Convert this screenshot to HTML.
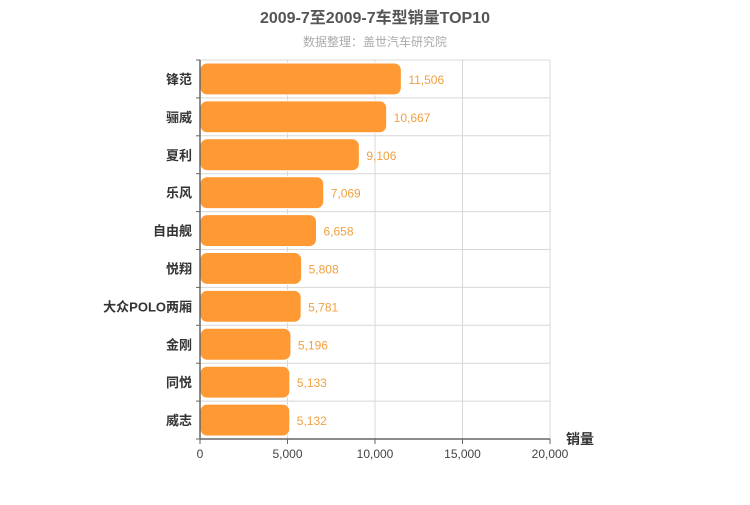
<!DOCTYPE html>
<html><head><meta charset="utf-8"><style>
body{margin:0;background:#fff;}
svg text{font-family:"Liberation Sans","Noto Sans CJK SC",sans-serif;}
</style></head><body>
<svg id="c" width="750" height="500" xmlns="http://www.w3.org/2000/svg">
<text x="375" y="23" text-anchor="middle" font-size="16" font-weight="bold" fill="#555">2009-7至2009-7车型销量TOP10</text>
<text x="375" y="46" text-anchor="middle" font-size="12" fill="#aaa">数据整理：盖世汽车研究院</text>
<g id="grid"></g><g id="bars"></g><g id="axes"></g>
<text x="566" y="444" font-size="14" font-weight="bold" fill="#333">销量</text>
</svg>
<script>
const categories=["锋范","骊威","夏利","乐风","自由舰","悦翔","大众POLO两厢","金刚","同悦","威志"];
const values=[11506,10667,9106,7069,6658,5808,5781,5196,5133,5132];
const ticks=[0,5000,10000,15000,20000];
const tickLabels=["0","5,000","10,000","15,000","20,000"];
const L=200,R=550,T=60,B=439,max=20000;
const x=v=>L+(R-L)*v/max;
const rowH=(B-T)/categories.length;
const y=i=>T+rowH*i;
const ns="http://www.w3.org/2000/svg";
function mk(tag,attrs,parent,txt){const e=document.createElementNS(ns,tag);for(const k in attrs)e.setAttribute(k,attrs[k]);if(txt!=null)e.textContent=txt;document.getElementById(parent).appendChild(e);return e;}
const fmt=v=>v.toLocaleString('en-US');
ticks.forEach((t,i)=>{
 if(i>0){const g=mk('line',{x1:x(t),x2:x(t),y1:T,y2:B,stroke:'#d8d8d8'},'grid');
 
 }
 const k=mk('line',{x1:x(t),x2:x(t),y1:B,y2:B+5,stroke:'#666'},'axes');
 
 
 const l=mk('text',{x:x(t),y:B+19,'text-anchor':'middle','font-size':12,fill:'#444'},'axes',tickLabels[i]);
 
 
});
for(let i=0;i<=categories.length;i++){
 if(i<categories.length){const g=mk('line',{x1:L,x2:R,y1:y(i),y2:y(i),stroke:'#d8d8d8'},'grid');
 
 }
 const k=mk('line',{x1:L-4,x2:L,y1:y(i),y2:y(i),stroke:'#666'},'axes');
 
 
}
categories.forEach((c,i)=>{
 const b=mk('rect',{x:L,y:y(i)+3,width:x(values[i])-L,height:rowH-6,rx:7,fill:'#ff9933',stroke:'#fff','stroke-width':1},'bars');
 
 
 const v=mk('text',{x:x(values[i])+7,y:y(i)+rowH/2+5,'font-size':12,fill:'#f0a040'},'bars',fmt(values[i]));
 
 
 const l=mk('text',{x:L-8,y:y(i)+rowH/2+5,'text-anchor':'end','font-size':13,'font-weight':'bold',fill:'#333'},'axes',c);
 
 
});
const ya=mk('line',{x1:L,x2:L,y1:T,y2:B,stroke:'#666','stroke-width':1.5},'axes');


const xa=mk('line',{x1:L,x2:R,y1:B,y2:B,stroke:'#666','stroke-width':1.5},'axes');


</script>
</body></html>
